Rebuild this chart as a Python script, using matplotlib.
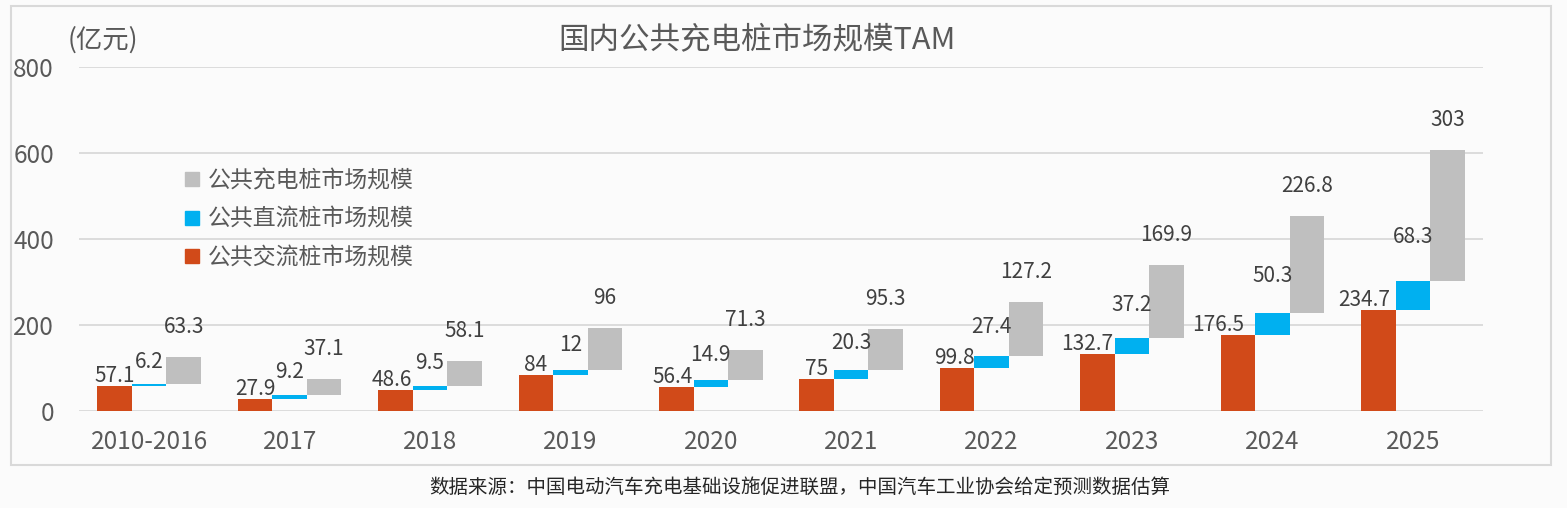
import matplotlib
matplotlib.use('Agg')
import matplotlib.pyplot as plt
import numpy as np
from matplotlib.lines import Line2D
from matplotlib.patches import Rectangle

plt.rcParams['font.family'] = ['Noto Sans CJK SC', 'DejaVu Sans']

# ---- data ----
categories = ['2010-2016', '2017', '2018', '2019', '2020', '2021', '2022', '2023', '2024', '2025']
ac_values = [57.1, 27.9, 48.6, 84, 56.4, 75, 99.8, 132.7, 176.5, 234.7]
dc_values = [6.2, 9.2, 9.5, 12, 14.9, 20.3, 27.4, 37.2, 50.3, 68.3]
total_values = [63.3, 37.1, 58.1, 96, 71.3, 95.3, 127.2, 169.9, 226.8, 303]
series_names = ['公共充电桩市场规模', '公共直流桩市场规模', '公共交流桩市场规模']
yticks = [0, 200, 400, 600, 800]

title = '国内公共充电桩市场规模TAM'
unit = '(亿元)'
source = '数据来源：中国电动汽车充电基础设施促进联盟，中国汽车工业协会给定预测数据估算'

# ---- style ----
RED = '#D14A19'
BLUE = '#00B0F0'
GRAY = '#BFBFBF'
TXT = '#595959'
LBL = '#404040'
GRID = '#D9D9D9'
BG = '#FBFBFB'
red_label_shift_px = [0, 0, -4, 0, -4, 0, -3, -10, -20, -14]

W, H = 1567, 508
fig = plt.figure(figsize=(W / 100, H / 100), dpi=100, facecolor=BG)
ax = fig.add_axes([79 / W, 1 - 411 / H, (1483 - 79) / W, (411 - 67) / H])
ax.set_facecolor(BG)

# outer frame
fig.patches.append(Rectangle((11 / W, 1 - 465 / H), (1551 - 11) / W, (465 - 6) / H,
                             transform=fig.transFigure, fill=False,
                             edgecolor=GRID, linewidth=1.5, zorder=0))

x = np.arange(len(categories))
w = 0.246
ac = np.array(ac_values)
dc = np.array(dc_values)
tot = np.array(total_values)

ax.bar(x - w, ac, w, color=RED, zorder=3)
ax.bar(x, dc, w, bottom=ac, color=BLUE, zorder=3)
ax.bar(x + w, tot, w, bottom=ac + dc, color=GRAY, zorder=3)

pt = 0.72  # points per pixel at dpi 100
for i in range(len(categories)):
    ax.annotate(f'{ac_values[i]:g}', (x[i] - w, ac[i]), xytext=(red_label_shift_px[i] * pt, 10 * pt),
                textcoords='offset points', ha='center', va='center', fontsize=15, color=LBL)
    ax.annotate(f'{dc_values[i]:g}', (x[i], ac[i] + dc[i] + 0.82 * dc[i]), xytext=(0, 20 * pt),
                textcoords='offset points', ha='center', va='center', fontsize=15, color=LBL)
    ax.annotate(f'{total_values[i]:g}', (x[i] + w, ac[i] + dc[i] + tot[i]), xytext=(0, 30 * pt),
                textcoords='offset points', ha='center', va='center', fontsize=15, color=LBL)

ax.set_xlim(-0.5, len(categories) - 0.5)
ax.set_ylim(0, 800)
ax.set_yticks(yticks)
ax.set_xticks(x)
ax.set_xticklabels(categories)
ax.tick_params(axis='both', length=0, labelsize=17.5, colors=TXT)
ax.tick_params(axis='y', pad=18)
ax.tick_params(axis='x', pad=13)
ax.yaxis.grid(True, color=GRID, linewidth=1.3, zorder=0)
ax.set_axisbelow(True)
for s in ax.spines.values():
    s.set_visible(False)

handles = [Line2D([], [], marker='s', linestyle='none', markersize=9.5, color=c)
           for c in (GRAY, BLUE, RED)]
ax.legend(handles, series_names, loc='upper left', bbox_to_anchor=(180.5 / W, 1 - 169 / H),
          bbox_transform=fig.transFigure, frameon=False, handlelength=1.0, handletextpad=0.2,
          labelspacing=0.68, borderpad=0, borderaxespad=0, prop={'size': 16.5},
          labelcolor=TXT)

fig.text(757 / W, 1 - 41 / H, title, ha='center', va='center', fontsize=22, color=TXT)
fig.text(68 / W, 1 - 40 / H, unit, ha='left', va='center', fontsize=19, color=TXT)
fig.text(800 / W, 1 - 487 / H, source, ha='center', va='center', fontsize=14, color='#262626')

fig.savefig('out.png', dpi=100, facecolor=BG)
